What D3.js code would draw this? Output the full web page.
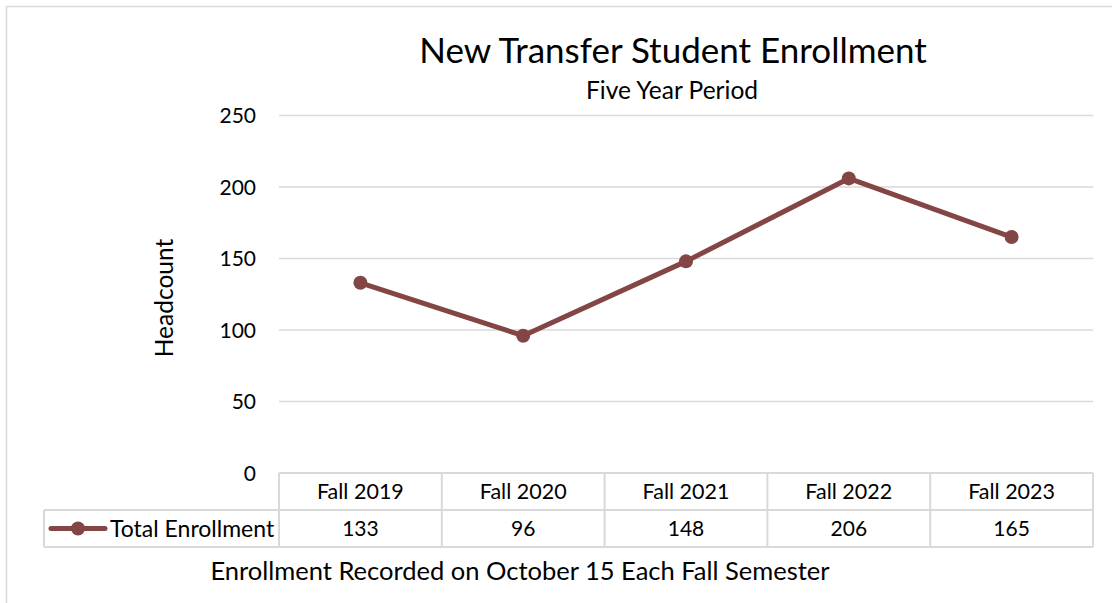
<!DOCTYPE html>
<html>
<head>
<meta charset="utf-8">
<script src="https://cdn.jsdelivr.net/npm/d3@7"></script>
<style>
  body { margin: 0; background: #fff; }
  svg { font-family: Lato, "Open Sans", sans-serif; }
</style>
</head>
<body>
<div id="chart"></div>
<script>
const semesters = ["Fall 2019", "Fall 2020", "Fall 2021", "Fall 2022", "Fall 2023"];
const enrollment = [133, 96, 148, 206, 165];
const yTicks = [0, 50, 100, 150, 200, 250];
const seriesName = "Total Enrollment";

const width = 1112, height = 603;
const lineColor = "#834645";
const gridColor = "#d9d9d9";

const svg = d3.select("#chart").append("svg")
  .attr("width", width)
  .attr("height", height);

// outer chart border
svg.append("rect")
  .attr("x", 6.5).attr("y", 6.5)
  .attr("width", width).attr("height", height)
  .attr("fill", "none")
  .attr("stroke", gridColor)
  .attr("stroke-width", 1.5);

var plot = {left: 279, right: 1093, top: 115.5, bottom: 473};

var x = d3.scaleBand()
  .domain(semesters)
  .range([plot.left, plot.right]);

var y = d3.scaleLinear()
  .domain([0, 250])
  .range([plot.bottom, plot.top]);

// gridlines
svg.append("g").selectAll("line")
  .data(yTicks.filter(d => d > 0))
  .enter().append("line")
    .attr("x1", plot.left).attr("x2", plot.right)
    .attr("y1", d => y(d)).attr("y2", d => y(d))
    .attr("stroke", gridColor)
    .attr("stroke-width", 1.5);

// y tick labels
svg.append("g").selectAll("text")
  .data(yTicks)
  .enter().append("text")
    .attr("x", 256)
    .attr("y", d => y(d) + 7.5)
    .attr("text-anchor", "end")
    .attr("font-size", 21)
    .attr("fill", "#000")
    .text(d => d);

// titles
svg.append("text")
  .attr("x", 673).attr("y", 63)
  .attr("text-anchor", "middle")
  .attr("font-size", 35)
  .text("New Transfer Student Enrollment");

svg.append("text")
  .attr("x", 672).attr("y", 99)
  .attr("text-anchor", "middle")
  .attr("font-size", 24.5)
  .text("Five Year Period");

svg.append("text")
  .attr("transform", "translate(173,298) rotate(-90)")
  .attr("text-anchor", "middle")
  .attr("font-size", 24.5)
  .text("Headcount");

svg.append("text")
  .attr("x", 520).attr("y", 580)
  .attr("text-anchor", "middle")
  .attr("font-size", 25.5)
  .text("Enrollment Recorded on October 15 Each Fall Semester");

// data table
var rowH = 37;
var table = svg.append("g")
  .attr("stroke", gridColor)
  .attr("stroke-width", 2)
  .attr("fill", "none");

table.append("line")
  .attr("x1", plot.left).attr("x2", plot.right)
  .attr("y1", plot.bottom).attr("y2", plot.bottom);
table.append("line")
  .attr("x1", 44).attr("x2", plot.right)
  .attr("y1", plot.bottom + rowH).attr("y2", plot.bottom + rowH);
table.append("line")
  .attr("x1", 44).attr("x2", plot.right)
  .attr("y1", plot.bottom + 2 * rowH).attr("y2", plot.bottom + 2 * rowH);
table.append("line")
  .attr("x1", 44).attr("x2", 44)
  .attr("y1", plot.bottom + rowH).attr("y2", plot.bottom + 2 * rowH);
table.selectAll(".col")
  .data(semesters.concat(["end"]))
  .enter().append("line")
    .attr("x1", (d, i) => i < semesters.length ? x(d) : plot.right)
    .attr("x2", (d, i) => i < semesters.length ? x(d) : plot.right)
    .attr("y1", plot.bottom).attr("y2", plot.bottom + 2 * rowH);

svg.append("g").selectAll("text")
  .data(semesters)
  .enter().append("text")
    .attr("x", d => x(d) + x.bandwidth() / 2)
    .attr("y", plot.bottom + 25.5)
    .attr("text-anchor", "middle")
    .attr("font-size", 21.5)
    .text(d => d);

svg.append("g").selectAll("text")
  .data(enrollment)
  .enter().append("text")
    .attr("x", (d, i) => x(semesters[i]) + x.bandwidth() / 2)
    .attr("y", plot.bottom + rowH + 26)
    .attr("text-anchor", "middle")
    .attr("font-size", 21)
    .text(d => d);

// legend key in table
var legY = plot.bottom + rowH * 1.5;
svg.append("line")
  .attr("x1", 51).attr("x2", 105)
  .attr("y1", legY).attr("y2", legY)
  .attr("stroke", lineColor)
  .attr("stroke-width", 5)
  .attr("stroke-linecap", "round");
svg.append("circle")
  .attr("cx", 78).attr("cy", legY).attr("r", 7)
  .attr("fill", lineColor);
svg.append("text")
  .attr("x", 110).attr("y", legY + 8)
  .attr("font-size", 23)
  .text(seriesName);

// series line
var line = d3.line()
  .x((d, i) => x(semesters[i]) + x.bandwidth() / 2)
  .y(d => y(d));

svg.append("path")
  .datum(enrollment)
  .attr("d", line)
  .attr("fill", "none")
  .attr("stroke", lineColor)
  .attr("stroke-width", 5)
  .attr("stroke-linejoin", "round");

svg.append("g").selectAll("circle")
  .data(enrollment)
  .enter().append("circle")
    .attr("cx", (d, i) => x(semesters[i]) + x.bandwidth() / 2)
    .attr("cy", d => y(d))
    .attr("r", 7)
    .attr("fill", lineColor);
</script>
</body>
</html>
